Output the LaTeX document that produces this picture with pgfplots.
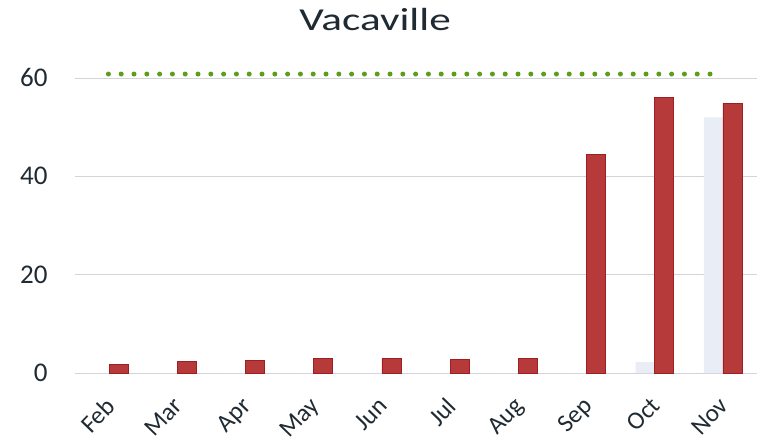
\documentclass[border=0pt]{standalone}
\usepackage{pgfplots}
\pgfplotsset{compat=1.18}
\usepackage{fontspec}
\setmainfont{Carlito}
\usepackage{graphicx}
\definecolor{barred}{HTML}{B73A3A}
\definecolor{baredge}{HTML}{9E1E22}
\definecolor{barlight}{HTML}{E9EDF6}
\definecolor{dotgreen}{HTML}{5A9E1C}
\definecolor{txt}{HTML}{1F2A33}
\definecolor{gridc}{HTML}{D4D4D8}
\begin{document}
\begin{tikzpicture}
\begin{axis}[
  scale only axis,
  width=682bp, height=314.7bp,
  xmin=-0.5, xmax=9.5,
  ymin=0, ymax=64,
  axis line style={draw=none},
  xtick={0,...,9},
  xticklabels={Feb,Mar,Apr,May,Jun,Jul,Aug,Sep,Oct,Nov},
  ytick={0,20,40,60},
  major tick length=0pt,
  ymajorgrids,
  grid style={gridc, line width=0.8bp},
  yticklabel style={font=\fontsize{27bp}{30bp}\selectfont, text=txt, xshift=-24bp},
  /pgf/number format/assume math mode=true,
  xticklabel style={font=\fontsize{25bp}{28bp}\selectfont, text=txt, xshift=-5bp, yshift=-18bp, rotate=46, anchor=north east},
  title={\scalebox{1.35}[1]{Vacaville}},
  title style={font=\fontsize{32bp}{36bp}\selectfont, text=txt, at={(0.44,1)}, anchor=base, yshift=22bp},
  clip=false,
]
\addplot[ybar, bar width=19bp, bar shift=-9.5bp, fill=barlight, draw=none]
  coordinates {(0,0) (1,0) (2,0) (3,0) (4,0) (5,0) (6,0) (7,0) (8,2.2) (9,52.0)};
\addplot[ybar, bar width=19bp, bar shift=9.5bp, fill=barred, draw=baredge, line width=0.8bp]
  coordinates {(0,1.7) (1,2.3) (2,2.6) (3,2.9) (4,2.9) (5,2.7) (6,3.0) (7,44.5) (8,56.1) (9,54.9)};
\addplot[sharp plot, no marks, draw=dotgreen, line width=5bp, line cap=round, dash pattern=on 0pt off 12.8bp]
  coordinates {(-0.01,60.8) (8.86,60.8)};
\coordinate (bl) at (rel axis cs:0,0);
\coordinate (tr) at (rel axis cs:1,1);
\end{axis}
\pgfresetboundingbox
\path ([shift={(-75bp,-75bp)}]bl) rectangle ([shift={(2bp,58.3bp)}]tr);
\end{tikzpicture}
\end{document}
